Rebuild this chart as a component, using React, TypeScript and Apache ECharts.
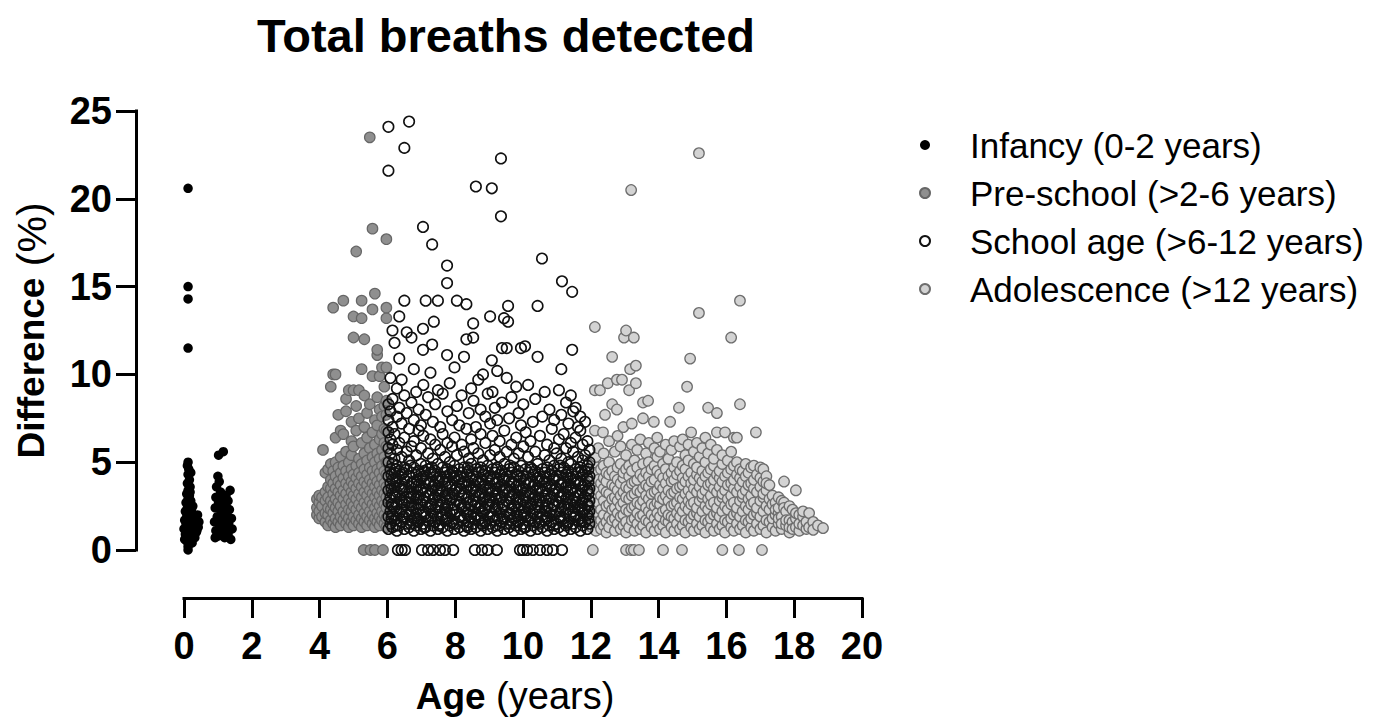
import React, { useEffect, useRef } from "react";
import * as echarts from "echarts";

// ---- Data ----
// Infancy: [age, difference %]
const infancyPoints: number[][] = [
  [0.12, 20.6], [0.12, 15.0], [0.12, 14.3], [0.12, 11.5],
  [0.12, 5.0], [0.1, 4.8], [0.14, 4.6], [0.12, 4.3], [0.16, 4.0], [0.1, 3.8], [0.18, 3.6],
  [0.12, 3.4], [0.08, 3.2], [0.16, 3.1], [0.12, 2.9], [0.2, 2.8], [0.06, 2.7], [0.14, 2.6],
  [0.1, 2.4], [0.22, 2.3], [0.04, 2.2], [0.16, 2.1], [0.26, 2.0], [0.08, 1.9], [0.3, 1.8],
  [0.12, 1.8], [0.02, 1.7], [0.2, 1.6], [0.34, 1.5], [0.06, 1.5], [0.14, 1.4], [0.28, 1.3],
  [0.0, 1.2], [0.22, 1.2], [0.1, 1.1], [0.36, 1.0], [0.18, 1.0], [0.04, 0.9], [0.26, 0.8],
  [0.12, 0.8], [0.32, 0.7], [0.02, 0.6], [0.2, 0.6], [0.08, 0.5], [0.14, 0.4], [0.24, 0.4],
  [0.12, 0.2], [0.12, 0.0], [0.3, 1.6], [0.26, 2.5], [0.18, 3.3], [0.2, 4.4], [0.44, 1.6],
  [0.42, 1.3], [0.4, 2.0], [0.38, 1.1], [0.16, 0.9],
  [1.02, 5.4], [1.16, 5.6], [1.0, 4.2], [1.04, 3.9], [0.96, 3.6], [1.36, 3.4], [1.08, 3.3],
  [1.24, 3.1], [0.94, 3.0], [1.14, 2.9], [1.3, 2.8], [1.02, 2.7], [1.2, 2.5], [0.92, 2.4],
  [1.34, 2.3], [1.1, 2.2], [1.26, 2.0], [0.98, 1.9], [1.4, 1.8], [1.16, 1.7], [0.9, 1.6],
  [1.32, 1.5], [1.06, 1.4], [1.22, 1.3], [1.42, 1.2], [0.94, 1.1], [1.12, 1.0], [1.3, 0.9],
  [1.02, 0.8], [0.92, 0.7], [1.2, 0.7], [1.38, 0.6], [1.1, 2.6], [1.28, 1.6], [1.04, 1.2],
];

// Pre-school: each row = [age, differences measured at that age...]
const preschoolRows: number[][] = [
  [3.92, 2.0, 2.4, 2.9],
  [3.99, 1.8, 2.2, 2.7, 3.1],
  [4.07, 1.9, 2.5, 3.0],
  [4.1, 5.7],
  [4.17, 1.6, 2.1, 2.8, 3.3, 4.4],
  [4.25, 1.4, 2.0, 2.4, 3.0, 3.6, 4.6],
  [4.33, 1.7, 2.3, 2.8, 3.5, 4.0, 4.9, 9.3],
  [4.4, 1.5, 2.1, 2.6, 3.2, 3.8, 4.5, 10.0, 13.8],
  [4.47, 1.3, 1.8, 2.4, 2.9, 3.5, 4.2, 5.0, 6.4, 10.0],
  [4.55, 1.6, 2.2, 2.7, 3.3, 3.9, 4.7, 7.7],
  [4.62, 1.4, 1.9, 2.5, 3.1, 3.7, 4.4, 5.3, 6.8],
  [4.7, 1.7, 2.2, 2.9, 3.4, 4.1, 4.8, 6.6, 14.2],
  [4.78, 1.5, 2.0, 2.6, 3.2, 3.8, 4.5, 5.6, 7.9, 8.6],
  [4.86, 1.3, 1.8, 2.3, 2.9, 3.6, 4.2, 5.0, 9.1],
  [4.94, 1.6, 2.2, 2.7, 3.3, 3.9, 4.6, 5.4, 6.2, 7.3],
  [5.0, 1.4, 1.9, 2.5, 3.1, 3.7, 4.3, 5.9, 9.1, 12.1, 13.3],
  [5.08, 1.7, 2.3, 2.9, 3.5, 4.1, 4.8, 6.8, 8.2, 17.0],
  [5.16, 1.5, 2.0, 2.6, 3.2, 3.8, 4.4, 5.2, 7.5, 9.1],
  [5.24, 1.3, 1.8, 2.4, 3.0, 3.6, 4.2, 4.9, 6.1, 10.3, 13.2, 14.2],
  [5.3, 0.0],
  [5.32, 1.6, 2.1, 2.7, 3.3, 3.9, 4.6, 5.5, 7.0, 8.8, 12.0],
  [5.4, 1.4, 1.9, 2.5, 3.1, 3.7, 4.3, 5.1, 6.4, 7.8],
  [5.48, 1.7, 2.2, 2.8, 3.4, 4.0, 4.7, 5.8, 8.3, 23.5],
  [5.5, 0.0],
  [5.56, 1.5, 2.0, 2.6, 3.2, 3.8, 4.5, 5.3, 6.7, 9.9, 13.7, 18.3],
  [5.63, 1.3, 1.8, 2.4, 3.0, 3.6, 4.2, 5.0, 6.0, 7.4, 14.6, 0.0],
  [5.7, 1.6, 2.1, 2.7, 3.3, 3.9, 4.6, 5.5, 7.1, 8.7, 11.1, 11.4],
  [5.77, 1.4, 1.9, 2.5, 3.1, 3.7, 4.4, 5.2, 6.3, 8.0, 9.9],
  [5.84, 1.7, 2.2, 2.8, 3.4, 4.1, 4.8, 5.7, 6.6, 7.6, 10.4],
  [5.87, 0.0],
  [5.91, 1.5, 2.0, 2.6, 3.2, 3.8, 4.5, 5.3, 6.1, 6.9, 8.2, 9.3],
  [5.97, 1.3, 1.8, 2.4, 3.0, 3.6, 4.3, 5.0, 5.9, 6.8, 7.7, 8.5, 10.4, 13.2, 13.8, 17.7],
];

// School age: each row = [age, differences measured at that age...]
const schoolRows: number[][] = [
  [6.03, 1.2, 1.9, 2.7, 3.4, 4.2, 5.0, 5.8, 6.7, 7.4, 8.3, 24.1, 21.6],
  [6.09, 1.5, 2.2, 3.0, 3.8, 4.6, 5.5, 6.3, 7.9, 9.8],
  [6.12, 1.8, 2.6, 3.5, 4.3],
  [6.15, 1.3, 2.0, 2.5, 3.2, 4.0, 4.9, 6.0, 7.0, 8.6, 12.5],
  [6.21, 1.7, 2.4, 3.1, 3.6, 4.4, 5.2, 6.6, 11.8],
  [6.26, 1.4, 2.2, 3.0, 3.9, 4.6],
  [6.28, 1.1, 1.8, 2.6, 3.3, 4.1, 4.8, 5.7, 7.6, 9.2],
  [6.31, 0.0],
  [6.35, 1.4, 2.1, 2.9, 3.7, 4.5, 6.1, 8.1, 10.9, 13.3],
  [6.42, 1.6, 2.3, 2.8, 3.5, 4.3, 5.3, 7.2, 9.7, 0.0],
  [6.46, 1.9, 2.7, 3.6, 4.4],
  [6.5, 1.2, 1.9, 2.6, 3.4, 4.0, 4.7, 6.4, 8.8, 14.2, 22.9],
  [6.52, 0.0],
  [6.57, 1.5, 2.2, 3.0, 3.9, 4.6, 5.6, 7.8, 12.4],
  [6.64, 1.3, 2.0, 2.7, 3.3, 4.2, 5.1, 6.9, 24.4],
  [6.68, 1.5, 2.2, 3.0, 3.6, 4.8],
  [6.71, 1.7, 2.5, 3.2, 3.8, 4.4, 5.9, 8.4, 12.1],
  [6.78, 1.1, 1.8, 2.4, 3.1, 3.9, 4.7, 6.2, 7.4, 10.3],
  [6.85, 1.4, 2.1, 2.9, 3.6, 4.3, 5.4, 9.0],
  [6.88, 1.8, 2.6, 3.3, 4.0],
  [6.92, 1.6, 2.3, 3.0, 3.7, 4.5, 6.8, 8.0],
  [6.99, 1.2, 2.0, 2.6, 3.4, 4.1, 4.9, 5.8, 7.1],
  [7.02, 0.0],
  [7.05, 12.6, 11.4, 18.4],
  [7.06, 1.5, 2.2, 2.8, 3.5, 4.2, 6.5, 9.4],
  [7.09, 1.3, 2.0, 3.0, 3.8, 4.5],
  [7.13, 1.3, 1.9, 2.7, 3.3, 4.0, 4.8, 7.7, 14.2],
  [7.2, 1.7, 2.4, 3.1, 3.8, 4.6, 5.5, 8.7, 0.0],
  [7.27, 1.1, 1.8, 2.5, 3.2, 3.9, 4.4, 6.3, 10.1],
  [7.31, 1.9, 2.6, 3.4, 4.7],
  [7.32, 17.4, 11.7],
  [7.34, 1.4, 2.1, 2.9, 3.6, 4.3, 5.2, 7.3],
  [7.35, 0.0],
  [7.37, 13.0],
  [7.41, 1.6, 2.3, 3.0, 3.7, 4.5, 6.0, 8.3],
  [7.49, 1.2, 1.9, 2.6, 3.4, 4.1, 4.9, 9.1, 14.2],
  [7.52, 1.4, 2.4, 3.1, 3.9],
  [7.55, 0.0],
  [7.56, 1.5, 2.2, 2.8, 3.5, 4.2, 5.7, 7.0],
  [7.63, 1.3, 2.0, 2.7, 3.3, 4.0, 4.7, 6.6, 8.9],
  [7.7, 1.7, 2.4, 3.1, 3.9, 4.4, 5.3, 0.0],
  [7.73, 1.7, 2.1, 2.9, 3.6, 4.2],
  [7.76, 16.2, 15.2, 11.1],
  [7.77, 1.1, 1.8, 2.5, 3.2, 3.8, 4.6, 6.1, 7.9],
  [7.84, 1.4, 2.1, 2.9, 3.6, 4.3, 5.0, 9.5],
  [7.91, 1.6, 2.3, 3.0, 3.7, 4.5, 5.9, 7.4],
  [7.94, 0.0],
  [7.95, 1.5, 2.3, 3.2, 4.4],
  [7.98, 1.2, 2.0, 2.6, 3.4, 4.1, 4.8, 6.4, 10.4],
  [8.05, 1.5, 2.2, 2.8, 3.5, 4.2, 5.4, 8.2, 14.2],
  [8.12, 1.3, 1.9, 2.7, 3.3, 4.0, 4.6, 7.1],
  [8.16, 1.9, 2.6, 3.5, 4.2],
  [8.19, 1.7, 2.4, 3.1, 3.8, 4.4, 6.0, 8.8],
  [8.26, 1.1, 1.8, 2.5, 3.2, 3.9, 4.7, 5.6, 11.0],
  [8.33, 1.4, 2.1, 2.9, 3.6, 4.3, 6.9, 12.0, 14.0],
  [8.37, 1.3, 2.0, 2.7, 3.9, 4.7],
  [8.4, 1.6, 2.3, 3.0, 3.7, 4.5, 5.2, 7.8],
  [8.47, 1.2, 1.9, 2.6, 3.4, 4.1, 4.9, 6.3, 9.2],
  [8.53, 12.9, 12.1],
  [8.54, 1.5, 2.2, 2.8, 3.5, 4.2, 5.8, 8.5],
  [8.58, 0.0, 1.8, 2.5, 3.1, 3.7],
  [8.61, 1.3, 2.0, 2.7, 3.3, 4.0, 4.6, 7.0, 20.7],
  [8.68, 1.7, 2.4, 3.1, 3.9, 4.4, 5.5, 9.7],
  [8.75, 1.1, 1.8, 2.5, 3.2, 3.8, 4.7, 6.6, 8.0],
  [8.79, 0.0, 1.5, 2.2, 3.3, 4.0, 4.5],
  [8.82, 1.4, 2.1, 2.9, 3.6, 4.3, 5.1, 10.0],
  [8.89, 1.6, 2.3, 3.0, 3.7, 4.5, 6.1, 7.6],
  [8.96, 1.2, 2.0, 2.6, 3.4, 4.1, 4.8, 8.9, 0.0],
  [9.0, 1.9, 2.6, 3.0, 3.8],
  [9.03, 1.5, 2.2, 2.8, 3.5, 4.2, 5.4, 7.2, 13.3],
  [9.08, 20.6, 10.8],
  [9.1, 1.3, 1.9, 2.7, 3.3, 4.0, 4.6, 6.5, 9.0],
  [9.17, 1.7, 2.4, 3.1, 3.8, 4.4, 5.7, 8.1],
  [9.2, 1.4, 2.3, 2.9, 3.5, 4.6],
  [9.23, 0.0],
  [9.24, 1.1, 1.8, 2.5, 3.2, 3.9, 4.7, 7.4, 10.2],
  [9.31, 1.4, 2.1, 2.9, 3.6, 4.3, 5.3, 6.2],
  [9.35, 22.3, 19.0],
  [9.38, 1.6, 2.3, 3.0, 3.7, 4.5, 8.4, 11.5],
  [9.41, 1.8, 2.5, 3.3, 4.0],
  [9.44, 13.2],
  [9.45, 1.2, 1.9, 2.6, 3.4, 4.1, 4.9, 6.8],
  [9.52, 1.5, 2.2, 2.8, 3.5, 4.2, 5.6, 9.8, 11.5],
  [9.56, 13.9, 13.0],
  [9.59, 1.3, 2.0, 2.7, 3.3, 4.0, 4.6, 7.5],
  [9.62, 1.5, 2.1, 2.9, 3.6, 4.8],
  [9.66, 1.7, 2.4, 3.1, 3.9, 4.4, 6.0, 8.7],
  [9.73, 1.1, 1.8, 2.5, 3.2, 3.8, 4.7, 5.2],
  [9.8, 1.4, 2.1, 2.9, 3.6, 4.3, 6.4, 9.3],
  [9.84, 1.9, 2.7, 3.4, 4.2],
  [9.87, 1.6, 2.3, 3.0, 3.7, 4.5, 5.5, 7.8],
  [9.91, 0.0],
  [9.94, 1.2, 2.0, 2.6, 3.4, 4.1, 4.8, 11.5, 7.1],
  [10.0, 0.0],
  [10.01, 1.5, 2.2, 2.8, 3.5, 4.2, 5.9, 8.3],
  [10.04, 1.3, 2.0, 2.4, 3.1, 3.8],
  [10.06, 11.6],
  [10.08, 1.3, 1.9, 2.7, 3.3, 4.0, 4.6, 6.7],
  [10.12, 0.0],
  [10.15, 1.7, 2.4, 3.1, 3.8, 4.4, 5.3, 9.4],
  [10.22, 1.1, 1.8, 2.5, 3.2, 3.9, 4.7, 6.2],
  [10.26, 1.8, 2.6, 3.3, 4.6],
  [10.29, 1.4, 2.1, 2.9, 3.6, 4.3, 7.3, 0.0],
  [10.36, 1.6, 2.3, 3.0, 3.7, 4.5, 5.6, 8.6],
  [10.43, 1.2, 1.9, 2.6, 3.4, 4.1, 4.9, 13.9, 11.0],
  [10.47, 1.6, 2.4, 3.0, 3.9],
  [10.5, 1.5, 2.2, 2.8, 3.5, 4.2, 6.5, 0.0],
  [10.56, 16.6],
  [10.57, 1.3, 2.0, 2.7, 3.3, 4.0, 4.6, 7.6],
  [10.64, 1.7, 2.4, 3.1, 3.9, 4.4, 5.4, 9.0],
  [10.68, 1.9, 2.2, 2.8, 3.5, 4.2],
  [10.71, 1.1, 1.8, 2.5, 3.2, 3.8, 4.7, 6.0, 0.0],
  [10.78, 1.4, 2.1, 2.9, 3.6, 4.3, 5.1, 8.0],
  [10.85, 1.6, 2.3, 3.0, 3.7, 4.5, 6.9],
  [10.88, 0.0],
  [10.9, 1.4, 2.5, 3.2, 4.0],
  [10.92, 1.2, 2.0, 2.6, 3.4, 4.1, 4.8, 5.8, 7.4],
  [10.99, 1.5, 2.2, 2.8, 3.5, 4.2, 5.5],
  [11.06, 1.3, 1.9, 2.7, 3.3, 4.0, 4.6, 6.3, 9.1],
  [11.1, 1.8, 2.2, 3.0, 3.7, 4.8],
  [11.13, 1.7, 2.4, 3.1, 3.8, 4.4, 5.2, 7.7, 10.3],
  [11.15, 15.3, 0.0],
  [11.2, 1.1, 1.8, 2.5, 3.2, 3.9, 4.7, 6.6],
  [11.27, 1.4, 2.1, 2.9, 3.6, 4.3, 5.8, 8.4],
  [11.31, 1.5, 2.6, 3.3, 4.1],
  [11.34, 1.6, 2.3, 3.0, 3.7, 4.5, 5.0, 7.2],
  [11.41, 1.2, 1.9, 2.6, 3.4, 4.1, 4.9, 6.1, 8.8],
  [11.45, 14.7, 11.4],
  [11.48, 1.5, 2.2, 2.8, 3.5, 4.2, 5.6, 7.9],
  [11.52, 1.9, 2.4, 3.0, 3.8],
  [11.55, 1.3, 2.0, 2.7, 3.3, 4.0, 4.6, 6.4, 8.1],
  [11.62, 1.7, 2.4, 3.1, 3.9, 4.4, 5.3, 7.0],
  [11.69, 1.1, 1.8, 2.5, 3.2, 3.8, 4.7, 6.8, 7.6],
  [11.73, 1.6, 2.3, 2.7, 3.4, 4.5],
  [11.76, 1.4, 2.1, 2.9, 3.6, 4.3, 5.1, 6.0],
  [11.83, 1.6, 2.3, 3.0, 3.7, 4.5, 5.4, 7.3],
  [11.9, 1.2, 2.0, 2.6, 3.4, 4.1, 4.8, 6.2],
  [11.93, 1.8, 2.5, 3.2, 3.9, 4.6],
  [11.96, 1.5, 2.2, 2.8, 3.5, 4.2, 5.0, 5.7],
];

// Adolescence: each row = [age, differences measured at that age...]
const adolescenceRows: number[][] = [
  [12.03, 1.3, 1.9, 2.6, 3.2, 3.9, 4.5, 5.1],
  [12.06, 0.0],
  [12.08, 1.6, 2.2, 2.9, 3.6, 4.2, 4.9],
  [12.12, 12.7, 9.1, 6.8],
  [12.15, 1.1, 1.8, 2.4, 3.0, 3.7, 4.4, 5.3],
  [12.22, 1.5, 2.1, 2.7, 3.4, 4.0, 5.8],
  [12.27, 9.1],
  [12.3, 1.2, 1.7, 2.3, 3.1, 3.8, 4.6],
  [12.36, 6.7],
  [12.38, 1.4, 2.0, 2.8, 3.5, 4.1, 4.8, 5.5],
  [12.42, 7.7],
  [12.46, 1.0, 1.6, 2.5, 3.3, 3.9, 4.4],
  [12.5, 9.5],
  [12.54, 1.3, 1.9, 2.6, 3.2, 4.3, 5.0, 6.2],
  [12.63, 1.7, 2.3, 2.9, 3.7, 4.5, 11.0, 8.3],
  [12.71, 1.1, 1.8, 2.4, 3.0, 3.6, 4.2, 5.6],
  [12.77, 9.7, 8.0],
  [12.79, 1.5, 2.1, 2.8, 3.4, 4.0, 4.7, 6.5],
  [12.88, 1.2, 1.9, 2.5, 3.1, 3.8, 4.9, 5.9],
  [12.92, 9.7],
  [12.96, 1.4, 2.0, 2.7, 3.3, 4.1, 4.4, 7.0],
  [12.98, 12.1],
  [13.04, 1.0, 1.6, 2.3, 3.0, 3.6, 4.6, 5.4, 12.5, 0.0],
  [13.13, 1.3, 2.2, 2.9, 3.5, 4.2, 4.8, 9.1],
  [13.16, 10.3],
  [13.19, 20.5, 0.0],
  [13.21, 1.7, 2.4, 3.1, 3.8, 4.5, 6.0, 7.2],
  [13.27, 12.1, 0.0],
  [13.29, 1.1, 1.8, 2.5, 3.2, 3.9, 5.1],
  [13.33, 10.5, 9.5],
  [13.37, 1.5, 2.1, 2.7, 3.4, 4.0, 4.7, 5.7],
  [13.42, 0.0],
  [13.46, 1.2, 1.9, 2.6, 3.3, 4.3, 6.3],
  [13.54, 1.4, 2.0, 2.8, 3.5, 4.1, 4.9, 8.4, 7.5],
  [13.63, 1.0, 1.7, 2.4, 3.1, 3.7, 4.4, 5.5],
  [13.69, 8.5],
  [13.71, 1.6, 2.2, 2.9, 3.6, 4.2, 5.0, 6.1],
  [13.79, 1.3, 2.0, 2.6, 3.2, 3.9, 4.6],
  [13.86, 7.3],
  [13.88, 1.1, 1.8, 2.5, 3.3, 4.0, 4.8, 5.8],
  [13.96, 1.5, 2.1, 2.7, 3.4, 4.5, 5.3, 6.4],
  [14.04, 1.2, 1.9, 2.6, 3.0, 3.7, 4.3, 5.6],
  [14.13, 1.4, 2.2, 2.9, 3.5, 4.1, 4.9, 0.0],
  [14.21, 1.0, 1.7, 2.3, 3.1, 3.8, 4.6, 6.0],
  [14.29, 1.6, 2.0, 2.8, 3.4, 4.2, 5.2],
  [14.34, 7.3],
  [14.38, 1.3, 1.9, 2.5, 3.2, 3.9, 4.4, 5.7],
  [14.46, 1.1, 1.8, 2.6, 3.3, 4.0, 4.7, 6.2],
  [14.54, 1.5, 2.1, 2.7, 3.5, 4.3, 5.0],
  [14.6, 8.1],
  [14.63, 1.2, 1.9, 2.4, 3.0, 3.6, 4.5, 5.9],
  [14.69, 0.0],
  [14.71, 1.4, 2.2, 2.9, 3.7, 4.1, 4.8, 6.3],
  [14.79, 1.0, 1.7, 2.5, 3.2, 3.9, 4.6, 5.4],
  [14.84, 9.3],
  [14.88, 1.6, 2.3, 2.8, 3.4, 4.2, 5.1, 6.0],
  [14.93, 10.9],
  [14.96, 1.3, 1.8, 2.6, 3.1, 3.8, 4.4, 6.7],
  [15.04, 1.1, 2.0, 2.7, 3.5, 4.0, 4.9, 5.6],
  [15.13, 1.5, 2.1, 2.4, 3.3, 4.3, 4.7, 6.1],
  [15.19, 22.6, 13.5],
  [15.21, 1.2, 1.9, 2.8, 3.6, 4.1, 5.3],
  [15.29, 1.4, 2.2, 3.0, 3.2, 3.9, 4.5, 5.8],
  [15.38, 1.0, 1.7, 2.5, 3.4, 4.2, 5.0, 6.4],
  [15.46, 1.6, 2.3, 2.9, 3.7, 4.4, 8.1, 5.5],
  [15.54, 1.3, 1.8, 2.6, 3.1, 3.8, 4.6, 6.0],
  [15.63, 1.1, 2.0, 2.7, 3.5, 4.0, 4.8, 5.2],
  [15.72, 1.5, 2.1, 2.4, 3.3, 4.3, 5.7, 7.8, 6.7],
  [15.8, 1.2, 1.9, 2.8, 3.6, 4.1, 4.5],
  [15.88, 1.4, 2.2, 3.0, 3.2, 3.9, 4.9, 5.4, 0.0],
  [15.96, 1.0, 1.7, 2.5, 3.4, 4.2, 6.7],
  [16.04, 1.6, 2.3, 2.9, 3.7, 4.4, 5.1],
  [16.14, 1.3, 1.8, 2.6, 3.1, 3.8, 4.6, 12.1, 5.6],
  [16.22, 1.1, 2.0, 2.7, 3.5, 4.0, 4.8, 6.4],
  [16.31, 1.5, 2.1, 2.4, 3.3, 4.3, 5.0, 6.4],
  [16.37, 0.0],
  [16.4, 1.2, 1.9, 2.8, 3.6, 4.1, 4.6, 14.2, 8.3],
  [16.48, 1.4, 2.2, 3.0, 3.2, 3.9, 4.5],
  [16.57, 1.0, 1.7, 2.5, 3.4, 4.2, 4.9],
  [16.65, 1.6, 2.3, 2.9, 3.7, 4.4],
  [16.73, 1.3, 1.8, 2.6, 3.1, 3.8, 4.7],
  [16.81, 1.1, 2.0, 2.7, 3.5, 4.0, 4.8],
  [16.87, 6.7],
  [16.9, 1.5, 2.1, 2.4, 3.3, 4.3],
  [17.0, 1.2, 1.9, 2.8, 3.6, 4.1, 4.7],
  [17.05, 0.0],
  [17.09, 1.4, 2.2, 3.0, 3.2, 3.9, 4.6],
  [17.18, 1.0, 1.7, 2.5, 3.4, 4.2, 3.8],
  [17.27, 1.6, 2.3, 2.9, 3.7],
  [17.36, 1.3, 1.8, 2.6, 3.1],
  [17.45, 1.1, 2.0, 2.7, 2.3],
  [17.54, 1.5, 2.1, 2.4, 3.0, 1.8],
  [17.63, 1.2, 1.9, 2.8, 1.5],
  [17.7, 3.9, 2.7, 2.4],
  [17.76, 1.4, 2.2, 1.7],
  [17.86, 1.0, 1.7, 2.5, 1.3],
  [17.95, 1.6, 2.3, 1.2],
  [18.05, 3.4, 1.3, 1.8, 2.1],
  [18.15, 1.1, 2.0, 1.5],
  [18.26, 1.9, 1.4, 2.2],
  [18.36, 1.2, 1.6],
  [18.44, 2.1, 1.3],
  [18.56, 1.6, 1.15],
  [18.7, 1.4],
  [18.85, 1.25],
];

const seriesNames = [
  "Infancy (0-2 years)",
  "Pre-school (>2-6 years)",
  "School age (>6-12 years)",
  "Adolescence (>12 years)",
];
const xTicks = { min: 0, max: 20, interval: 2 };
const yTicks = { min: 0, max: 25, interval: 5 };

const rowsToPoints = (rows: number[][]) =>
  rows.flatMap(([age, ...vals]) => vals.map((v) => [age, v]));

const FONT = "'Liberation Sans', Arial, Helvetica, sans-serif";

export default function App() {
  const ref = useRef<HTMLDivElement>(null);
  useEffect(() => {
    if (!ref.current) return;
    const chart = echarts.init(ref.current, undefined, { renderer: "svg" });
    const axisCommon = {
      type: "value" as const,
      offset: 48,
      splitLine: { show: false },
      axisLine: { show: true, onZero: false, lineStyle: { color: "#000", width: 3, cap: "square" } },
      axisTick: { show: true, length: 20, lineStyle: { color: "#000", width: 3 } },
      nameLocation: "middle" as const,
    };
    chart.setOption({
      animation: false,
      backgroundColor: "#fff",
      textStyle: { fontFamily: FONT },
      title: {
        text: "Total breaths detected",
        left: 501,
        top: 7,
        textAlign: "center",
        textStyle: { fontFamily: FONT, fontSize: 47, fontWeight: "bold", color: "#000" },
      },
      legend: {
        orient: "vertical",
        left: 914,
        top: 122,
        itemWidth: 80,
        itemHeight: 10,
        itemGap: 12,
        data: seriesNames,
        textStyle: { fontFamily: FONT, fontSize: 35, color: "#000", lineHeight: 36 },
      },
      grid: { left: 184, right: 1377 - 862, top: 111, bottom: 724 - 550, containLabel: false },
      xAxis: {
        ...axisCommon,
        ...xTicks,
        axisLabel: { fontFamily: FONT, fontSize: 38, fontWeight: "bold", color: "#000", margin: 29 },
        name: "{b|Age}{n| (years)}",
        nameGap: 79,
        nameTextStyle: {
          padding: [0, 16, 0, 0],
          rich: {
            b: { fontFamily: FONT, fontSize: 37, fontWeight: "bold", color: "#000" },
            n: { fontFamily: FONT, fontSize: 38, color: "#000" },
          },
        },
      },
      yAxis: {
        ...axisCommon,
        ...yTicks,
        axisLabel: { fontFamily: FONT, fontSize: 38, fontWeight: "bold", color: "#000", margin: 24 },
        name: "{b|Difference}{n| (%)}",
        nameGap: 84,
        nameRotate: 90,
        nameTextStyle: {
          rich: {
            b: { fontFamily: FONT, fontSize: 37, fontWeight: "bold", color: "#000" },
            n: { fontFamily: FONT, fontSize: 41, color: "#000" },
          },
        },
      },
      series: [
        {
          name: seriesNames[0],
          type: "scatter",
          clip: false,
          symbol: "circle",
          symbolSize: 9.5,
          itemStyle: { color: "#000", opacity: 1 },
          data: infancyPoints,
          z: 2,
        },
        {
          name: seriesNames[1],
          type: "scatter",
          clip: false,
          symbol: "circle",
          symbolSize: 10.5,
          itemStyle: { color: "#8f8f8f", borderColor: "#666", borderWidth: 1.2, opacity: 1 },
          data: rowsToPoints(preschoolRows),
          z: 2,
        },
        {
          name: seriesNames[2],
          type: "scatter",
          clip: false,
          symbol: "circle",
          symbolSize: 10.5,
          itemStyle: { color: "rgba(255,255,255,0)", borderColor: "#111", borderWidth: 1.6, opacity: 1 },
          data: rowsToPoints(schoolRows),
          z: 4,
        },
        {
          name: seriesNames[3],
          type: "scatter",
          clip: false,
          symbol: "circle",
          symbolSize: 10.5,
          itemStyle: { color: "#d3d3d3", borderColor: "#6e6e6e", borderWidth: 1.3, opacity: 1 },
          data: rowsToPoints(adolescenceRows),
          z: 3,
        },
      ],
    });
    return () => chart.dispose();
  }, []);
  return <div ref={ref} style={{ width: 1377, height: 724, position: "absolute", left: 0, top: 0 }} />;
}
